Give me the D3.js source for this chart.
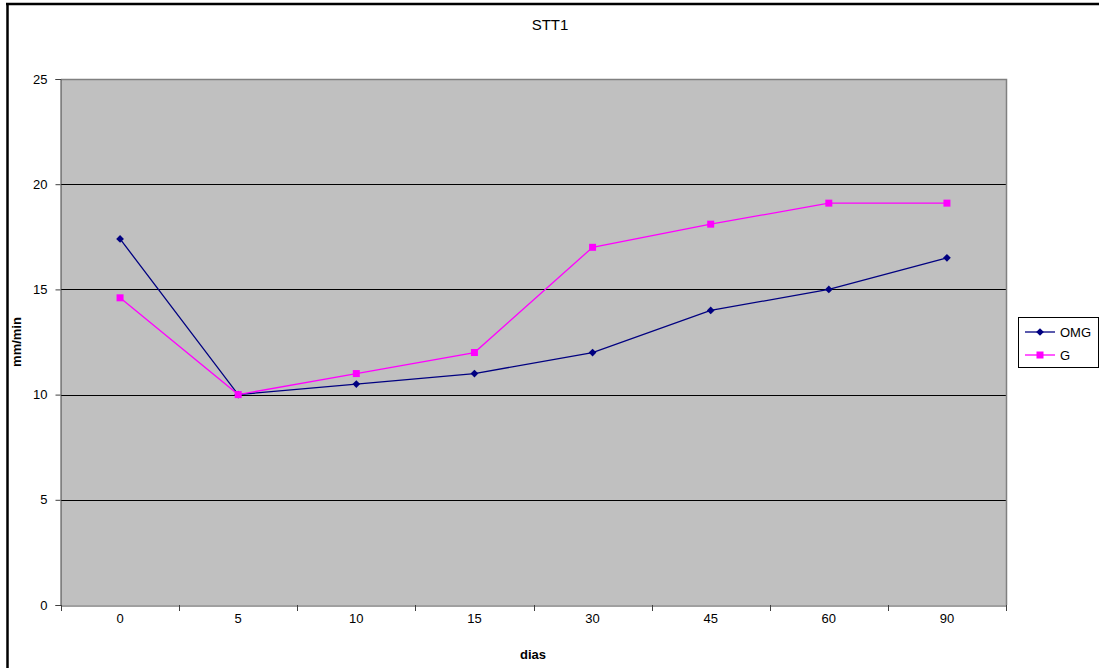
<!DOCTYPE html>
<html>
<head>
<meta charset="utf-8">
<script src="https://cdn.jsdelivr.net/npm/d3@7"></script>
<style>
  html, body { margin: 0; padding: 0; background: #fff; }
  svg { display: block; font-family: "Liberation Sans", Arial, sans-serif; }
</style>
</head>
<body>
<svg id="chart" width="1099" height="668"></svg>
<script>
const categories = ["0", "5", "10", "15", "30", "45", "60", "90"];
const omgValues = [17.4, 10, 10.5, 11, 12, 14, 15, 16.5];
const gValues = [14.6, 10, 11, 12, 17, 18.1, 19.1, 19.1];
const yTicks = [0, 5, 10, 15, 20, 25];
const seriesNames = ["OMG", "G"];
const seriesColors = ["#000080", "#FF00FF"];

const svg = d3.select("#chart");

// outer chart border
svg.append("line").attr("x1", 6).attr("x2", 1099).attr("y1", 4).attr("y2", 4)
  .attr("stroke", "#000").attr("stroke-width", 2.5);
svg.append("line").attr("x1", 7.5).attr("x2", 7.5).attr("y1", 3).attr("y2", 668)
  .attr("stroke", "#000").attr("stroke-width", 2.5);

const plot = { left: 61, right: 1006, top: 79, bottom: 605 };

const x = d3.scaleBand().domain(categories).range([plot.left, plot.right]).padding(0);
const y = d3.scaleLinear().domain([0, 25]).range([plot.bottom, plot.top]);

// plot background
svg.append("rect")
  .attr("x", plot.left).attr("y", plot.top)
  .attr("width", plot.right - plot.left).attr("height", plot.bottom - plot.top)
  .attr("fill", "#C0C0C0");

// gridlines
svg.append("g").selectAll("line").data(yTicks.filter(d => d > 0 && d < 25)).join("line")
  .attr("x1", plot.left).attr("x2", plot.right)
  .attr("y1", d => Math.round(y(d)) + 0.5).attr("y2", d => Math.round(y(d)) + 0.5)
  .attr("stroke", "#000").attr("stroke-width", 1.2);

// plot border top/right (gray)
svg.append("path")
  .attr("d", `M${plot.left},${plot.top + 0.5}H${plot.right + 0.5}V${plot.bottom}`)
  .attr("fill", "none").attr("stroke", "#808080").attr("stroke-width", 1.5);

// y axis
const yAxis = svg.append("g")
  .attr("transform", `translate(${plot.left - 0.5},0)`)
  .call(d3.axisLeft(y).tickValues(yTicks).tickSize(5).tickPadding(8).tickFormat(d3.format("d")));
yAxis.select(".domain").attr("stroke", "#404040");
yAxis.selectAll(".tick line").attr("stroke", "#404040");
yAxis.selectAll(".tick text").attr("font-size", 13).attr("fill", "#000")
  .attr("font-family", "Liberation Sans, Arial, sans-serif");

// x axis
const xAxis = svg.append("g")
  .attr("transform", `translate(0,${plot.bottom + 0.5})`)
  .call(d3.axisBottom(x).tickSize(0).tickPadding(8));
xAxis.select(".domain").attr("stroke", "#404040");
xAxis.selectAll(".tick text").attr("font-size", 13).attr("fill", "#000")
  .attr("font-family", "Liberation Sans, Arial, sans-serif");
// tick marks at category boundaries
const boundaries = categories.map(c => x(c)).concat([plot.right]);
svg.append("g").selectAll("line").data(boundaries).join("line")
  .attr("x1", d => Math.round(d) + 0.5).attr("x2", d => Math.round(d) + 0.5)
  .attr("y1", plot.bottom).attr("y2", plot.bottom + 6)
  .attr("stroke", "#404040");

// title and axis titles
svg.append("text").attr("x", 550).attr("y", 30).attr("text-anchor", "middle")
  .attr("font-size", 15).text("STT1");
svg.append("text").attr("x", 533).attr("y", 659).attr("text-anchor", "middle")
  .attr("font-size", 13).attr("font-weight", "bold").text("dias");
svg.append("text").attr("transform", "translate(21,342) rotate(-90)")
  .attr("text-anchor", "middle").attr("font-size", 13).attr("font-weight", "bold").text("mm/min");

// series
const line = d3.line().x((d, i) => x(categories[i]) + x.bandwidth() / 2).y(d => y(d));
const series = [omgValues, gValues];
const diamond = d3.symbol(d3.symbolSquare, 30);

series.forEach((vals, si) => {
  svg.append("path").datum(vals).attr("d", line)
    .attr("fill", "none").attr("stroke", seriesColors[si]).attr("stroke-width", 1.3);
  const g = svg.append("g");
  if (si === 0) {
    g.selectAll("path").data(vals).join("path")
      .attr("d", diamond)
      .attr("transform", (d, i) => `translate(${x(categories[i]) + x.bandwidth() / 2},${y(d)}) rotate(45)`)
      .attr("fill", seriesColors[si]);
  } else {
    g.selectAll("rect").data(vals).join("rect")
      .attr("x", (d, i) => x(categories[i]) + x.bandwidth() / 2 - 3.5)
      .attr("y", d => y(d) - 3.5)
      .attr("width", 7).attr("height", 7)
      .attr("fill", seriesColors[si]);
  }
});

// legend
const legend = svg.append("g");
legend.append("rect").attr("x", 1018.5).attr("y", 317.5).attr("width", 80).attr("height", 50)
  .attr("fill", "#fff").attr("stroke", "#000").attr("stroke-width", 1);
seriesNames.forEach((name, i) => {
  const ly = 332 + i * 23;
  legend.append("line").attr("x1", 1025).attr("x2", 1055).attr("y1", ly).attr("y2", ly)
    .attr("stroke", seriesColors[i]).attr("stroke-width", 1.3);
  if (i === 0) {
    legend.append("path").attr("d", diamond)
      .attr("transform", `translate(1040,${ly}) rotate(45)`).attr("fill", seriesColors[i]);
  } else {
    legend.append("rect").attr("x", 1036.5).attr("y", ly - 3.5).attr("width", 7).attr("height", 7)
      .attr("fill", seriesColors[i]);
  }
  legend.append("text").attr("x", 1060).attr("y", ly + 5).attr("font-size", 13).text(name);
});
</script>
</body>
</html>
